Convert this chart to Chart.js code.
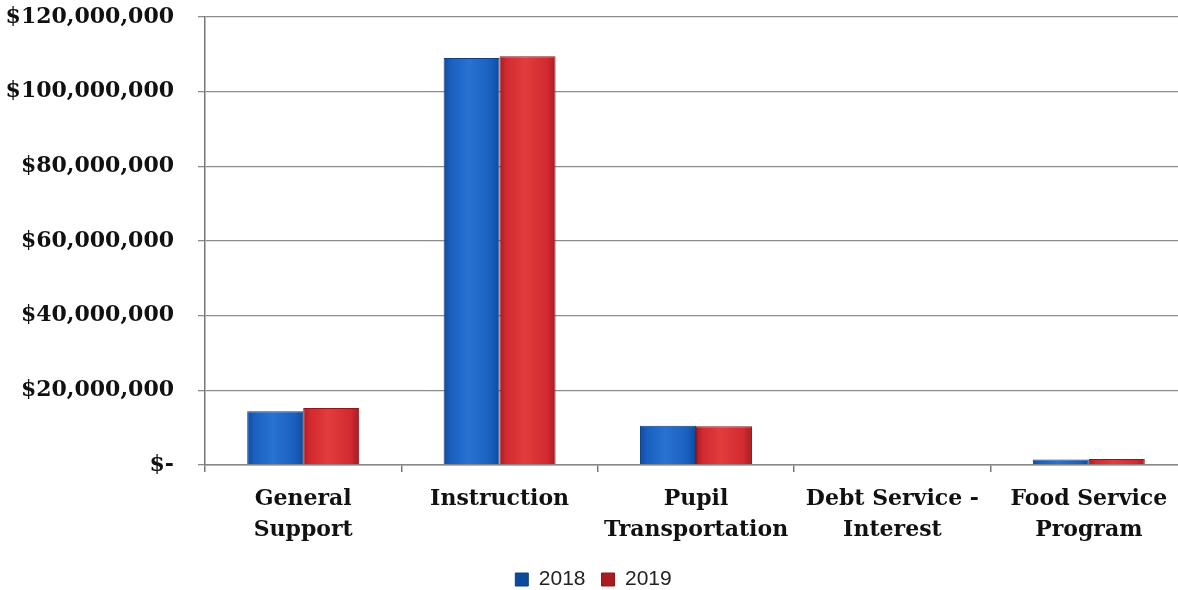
<!DOCTYPE html>
<html>
<head>
<meta charset="utf-8">
<script src="https://cdn.jsdelivr.net/npm/chart.js@4.4.1/dist/chart.umd.min.js"></script>
<style>
html,body{margin:0;padding:0;background:#fff;overflow:hidden;}
#wrap{position:relative;width:1187px;height:590px;}
</style>
</head>
<body>
<div id="wrap"><canvas id="c"></canvas></div>
<script>
const categories = [["General","Support"],["Instruction"],["Pupil","Transportation"],["Debt Service -","Interest"],["Food Service","Program"]];
const seriesNames = ["2018","2019"];
const values2018 = [14400000, 109000000, 10500000, 0, 1500000];
const values2019 = [15300000, 109500000, 10400000, 0, 1600000];
const yTicks = [0, 20000000, 40000000, 60000000, 80000000, 100000000, 120000000];

const serif = "'DejaVu Serif', serif";
const CAT_PCT = 0.57;

function barGradient(context, side, dark, mid, light) {
  const chart = context.chart;
  const xs = chart.scales.x;
  if (!xs || !chart.chartArea || context.dataIndex === undefined) return mid;
  const c = xs.getPixelForValue(context.dataIndex);
  const catW = xs.width / chart.data.labels.length;
  const w = catW * CAT_PCT / 2;
  const x0 = side === 0 ? c - w : c;
  const x1 = x0 + w;
  const g = chart.ctx.createLinearGradient(x0, 0, x1, 0);
  g.addColorStop(0, dark);
  g.addColorStop(0.12, mid);
  g.addColorStop(0.45, light);
  g.addColorStop(0.85, mid);
  g.addColorStop(1, dark);
  return g;
}

new Chart(document.getElementById('c'), {
  type: 'bar',
  data: {
    labels: categories,
    datasets: [
      {label: seriesNames[0], data: values2018,
       backgroundColor: (ctx) => ctx.type === 'data' ? barGradient(ctx, 0, '#0e4a9c', '#1a5fbe', '#2872d2') : '#1c64c4',
       borderColor: '#0d3f85', borderWidth: 1, categoryPercentage: CAT_PCT, barPercentage: 1.0},
      {label: seriesNames[1], data: values2019,
       backgroundColor: (ctx) => ctx.type === 'data' ? barGradient(ctx, 1, '#a81c22', '#d22a30', '#e23c3d') : '#d92a2f',
       borderColor: '#8f171c', borderWidth: 1, categoryPercentage: CAT_PCT, barPercentage: 1.0}
    ]
  },
  options: {
    responsive: true,
    maintainAspectRatio: false,
    animation: false,
    devicePixelRatio: 1,
    layout: {padding: {top: 17, right: 0, bottom: -10, left: 0}},
    plugins: {
      tooltip: {enabled: false},
      legend: {
        position: 'bottom',
        labels: {
          font: {family: "'Liberation Sans', Arial, sans-serif", size: 21},
          color: '#222',
          boxWidth: 13,
          boxHeight: 13,
          padding: 16
        }
      }
    },
    scales: {
      x: {
        grid: {display: true, drawOnChartArea: false, drawTicks: true, tickLength: 7, color: '#777', lineWidth: 1.5},
        border: {display: true, color: '#888', width: 1.5},
        ticks: {
          font: {family: serif, size: 22, weight: 'bold', lineHeight: 1.4},
          color: '#111',
          padding: 12,
          maxRotation: 0,
          autoSkip: false
        },
        afterFit: (s) => { s.height = 88; s.paddingTop = 0; s.paddingBottom = 0; }
      },
      y: {
        min: 0,
        max: 120000000,
        afterBuildTicks: (s) => { s.ticks = yTicks.map(v => ({value: v})); },
        grid: {color: '#8c8c8c', lineWidth: 1.3, tickLength: 7},
        border: {display: true, color: '#777', width: 1.5},
        ticks: {
          font: {family: serif, size: 22, weight: 'bold'},
          color: '#111',
          padding: 24,
          callback: (v) => v === 0 ? '$-' : '$' + Number(v).toLocaleString('en-US')
        },
        afterFit: (s) => { s.width = 205; s.paddingTop = 0; s.paddingBottom = 0; }
      }
    }
  }
});
</script>
</body>
</html>
